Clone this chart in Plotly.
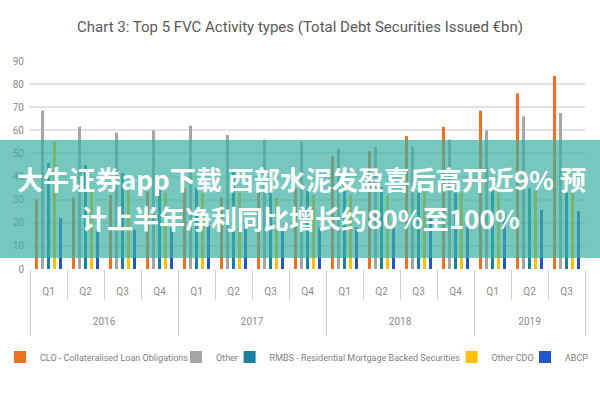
import plotly.graph_objects as go

years = ["2016"] * 4 + ["2017"] * 4 + ["2018"] * 4 + ["2019"] * 3
quarters = ["Q1", "Q2", "Q3", "Q4"] * 3 + ["Q1", "Q2", "Q3"]

clo = [30, 31, 32, 33.5, 35, 31, 34, 35, 49, 51, 57.5, 61.5, 68.5, 76, 83.5]
other = [68.5, 61.5, 59, 60, 62, 58, 56, 55, 52, 53, 53, 56, 60, 66, 67.5]
rmbs = [46, 45, 41.5, 35, 35, 42, 33, 34, 36, 35.5, 34, 33.5, 34, 35, 35]
other_cdo = [55, 35, 34, 33, 33, 33, 31, 32, 32, 32, 33.5, 33, 33, 34, 33]
abcp = [22, 17, 17, 18, 19, 20, 17, 18, 18, 18, 24, 24, 24, 25.5, 25]

series_names = [
    "CLO - Collateralised Loan Obligations",
    "Other",
    "RMBS - Residential Mortgage Backed Securities",
    "Other CDO",
    "ABCP",
]
series_values = [clo, other, rmbs, other_cdo, abcp]
series_colors = ["#F07022", "#A6A6A6", "#1B7F9E", "#FFC000", "#2457C5"]

title_text = "Chart 3: Top 5 FVC Activity types (Total Debt Securities Issued €bn)"
overlay_line1 = "大牛证券app下载 西部水泥发盈喜后高开近9% 预"
overlay_line2 = "计上半年净利同比增长约80%至100%"

# category index positions (derived from the category lists)
x_pos = list(range(len(quarters)))
quarter_bounds = [i - 0.5 for i in x_pos] + [x_pos[-1] + 0.5]
year_labels = list(dict.fromkeys(years))
year_idx = {y: [i for i, v in enumerate(years) if v == y] for y in year_labels}
year_centers = [sum(year_idx[y]) / len(year_idx[y]) for y in year_labels]
year_bounds = [-0.5] + [year_idx[y][-1] + 0.5 for y in year_labels]
x_range = [-0.5, x_pos[-1] + 0.5]

base_font = "Roboto, sans-serif"
legend_ids = ["legend", "legend2", "legend3", "legend4", "legend5"]
legend_left_px = [-4.5, 176, 229.6, 451.6, 525]

fig = go.Figure()
for name, vals, col, lid in zip(series_names, series_values, series_colors, legend_ids):
    fig.add_trace(go.Bar(x=x_pos, y=vals, name=name, legend=lid,
                         marker=dict(color=col, line=dict(width=0))))
# empty helper trace so the year-level axis (x2) is drawn
fig.add_trace(go.Scatter(x=[], y=[], xaxis="x2", yaxis="y", mode="markers",
                         showlegend=False, hoverinfo="skip"))

legend_common = dict(orientation="h", xref="container", xanchor="left",
                     yref="container", y=1 - 357 / 400, yanchor="middle",
                     font=dict(family=base_font, size=9, color="#7F7F7F"),
                     bgcolor="rgba(0,0,0,0)", borderwidth=0, itemwidth=30)
legend_layout = {lid: dict(legend_common, x=px / 600)
                 for lid, px in zip(legend_ids, legend_left_px)}

tick_grey = "#D0D0D0"
fig.update_layout(
    width=600, height=400,
    margin=dict(l=30, r=15, t=61, b=131),
    paper_bgcolor="white", plot_bgcolor="white",
    barmode="group", bargap=0.19, bargroupgap=0.5,
    font=dict(family=base_font, color="#8C8C8C", size=10),
    title=dict(text=title_text, x=0.5, xanchor="center",
               y=1 - 27 / 400, yanchor="middle",
               font=dict(family=base_font, size=15, color="#595959")),
    showlegend=True,
    **legend_layout,
    xaxis=dict(range=x_range, tickmode="array", tickvals=x_pos, ticktext=quarters,
               ticks="", showgrid=False, zeroline=False, showline=False,
               ticklabelstandoff=15,
               tickfont=dict(size=10, color="#8C8C8C"),
               minor=dict(tickmode="array", tickvals=quarter_bounds, ticks="outside",
                          ticklen=30, tickwidth=1, tickcolor=tick_grey, showgrid=False)),
    xaxis2=dict(overlaying="x", anchor="y", side="bottom", range=x_range,
                tickmode="array", tickvals=year_centers, ticktext=year_labels,
                ticks="", showgrid=False, zeroline=False, showline=False,
                ticklabelstandoff=45,
                tickfont=dict(size=10, color="#8C8C8C"),
                minor=dict(tickmode="array", tickvals=year_bounds, ticks="outside",
                           ticklen=66, tickwidth=1, tickcolor=tick_grey, showgrid=False)),
)
fig.update_yaxes(range=[0, 90], dtick=10, showgrid=True, gridcolor="#E3E3E3",
                 gridwidth=1.5, zeroline=False, showline=False,
                 ticklabelstandoff=5,
                 tickfont=dict(size=10, color="#8C8C8C"))

# translucent banner overlay with caption
fig.add_shape(type="rect", xref="paper", yref="paper",
              x0=-0.06, x1=1.04, y0=(269 - 258) / 208, y1=(269 - 140) / 208,
              fillcolor="rgba(60,175,162,0.7)", line=dict(width=0), layer="above")
fig.add_annotation(text="<b>" + overlay_line1 + "</b>", xref="paper", yref="paper",
                   x=(301.5 - 30) / 555, y=(269 - 178) / 208, showarrow=False,
                   xanchor="center", yanchor="middle",
                   font=dict(family="Noto Sans CJK SC", size=26, color="white"))
fig.add_annotation(text="<b>" + overlay_line2 + "</b>", xref="paper", yref="paper",
                   x=(300 - 30) / 555, y=(269 - 217) / 208, showarrow=False,
                   xanchor="center", yanchor="middle",
                   font=dict(family="Noto Sans CJK SC", size=26, color="white"))

fig.write_html("out.html")
